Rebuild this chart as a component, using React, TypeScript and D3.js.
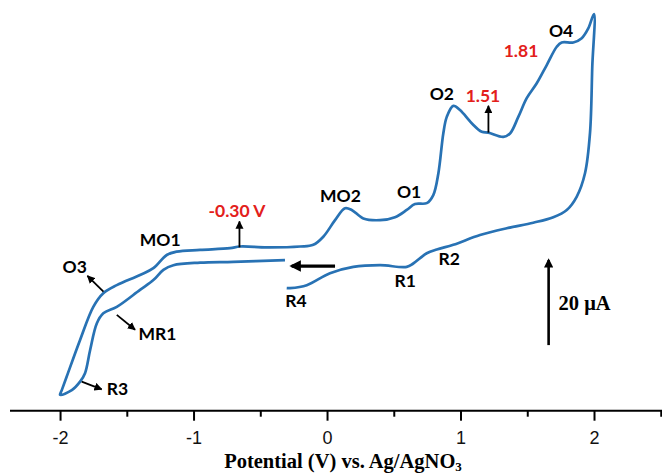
import { useEffect, useRef } from "react";
import { axisBottom, curveCatmullRom, line, scaleLinear, select } from "d3";

// scan starts at -0.3 V, runs negative to -2 V, up to +2 V and back to -0.3 V
const potential = [
    -0.315, -0.702, -0.951, -1.151, -1.226, -1.301, -1.401, -1.575, -1.676, -1.725, -1.775, -1.813, -1.85, -1.912, -2.0,
    -1.987, -1.95, -1.85, -1.751, -1.676, -1.575, -1.401, -1.301, -1.201, -1.126, -0.951, -0.727, -0.652, -0.452, -0.202,
    -0.103, -0.028, 0.06, 0.135, 0.185, 0.272, 0.397, 0.509, 0.597, 0.659, 0.747, 0.796, 0.834, 0.871, 0.897, 0.946,
    0.996, 1.084, 1.159, 1.208, 1.321, 1.371, 1.433, 1.496, 1.571, 1.646, 1.721, 1.758, 1.845, 1.908, 1.957, 2.0,
    1.987, 1.97, 1.933, 1.87, 1.796, 1.695, 1.545, 1.346, 1.146, 0.946, 0.822, 0.747, 0.646, 0.597, 0.397, 0.197,
    0.022, -0.152, -0.277, -0.302
];
const current = [
    -1.2, -1.6, -1.8, -2.4, -3.5, -5.9, -8.2, -12.2, -13.7, -16.1, -22.4, -27.8, -29.8, -31.8, -32.9,
    -31.8, -28.6, -20.0, -12.2, -9.0, -7.1, -4.7, -3.1, 0.0, 0.8, 1.2, 1.6, 2.0, 1.8, 2.0,
    2.4, 4.3, 8.2, 11.0, 10.6, 8.6, 8.2, 8.9, 10.6, 12.0, 12.2, 14.1, 19.2, 28.6, 32.5, 35.1,
    34.1, 31.0, 29.0, 28.8, 27.8, 28.6, 32.5, 36.9, 40.4, 44.7, 49.0, 50.0, 50.0, 51.0, 53.3, 56.7,
    44.3, 28.7, 19.3, 13.7, 10.6, 8.9, 7.6, 6.3, 4.7, 2.4, 1.3, 0.4, -2.0, -2.8, -2.4, -2.8,
    -4.3, -7.1, -7.8, -7.8
];

const majorTicks = [-2, -1, 0, 1, 2];
const minorTicks = [-1.5, -0.5, 0.5, 1.5, 2.5];

// peak labels: text, potential, current (label baseline), colour
const peakLabels: [string, number, number, string][] = [
    ["MO1", -1.25, 2.1, "#000"],
    ["O3", -1.89, -4.2, "#000"],
    ["MR1", -1.27, -20.0, "#000"],
    ["R3", -1.57, -32.9, "#000"],
    ["-0.30 V", -0.675, 9.0, "#e3201b"],
    ["MO2", 0.1, 12.5, "#000"],
    ["O1", 0.615, 13.4, "#000"],
    ["R4", -0.232, -12.2, "#000"],
    ["R1", 0.585, -7.5, "#000"],
    ["R2", 0.915, -2.4, "#000"],
    ["O2", 0.86, 36.5, "#000"],
    ["1.51", 1.168, 36.0, "#e3201b"],
    ["1.81", 1.453, 46.6, "#e3201b"],
    ["O4", 1.753, 51.3, "#000"]
];

// thin pointer arrows: from (E, I) to (E, I)
const pointers: [number, number, number, number][] = [
    [-0.656, 1.8, -0.656, 7.9],
    [-1.675, -8.6, -1.795, -4.9],
    [-1.575, -14.1, -1.438, -17.6],
    [-1.838, -29.8, -1.688, -31.6],
    [1.209, 28.8, 1.209, 35.1]
];

const scanArrow = [0.06, -0.265, -2.6]; // from E, to E, at I
const scaleBar = [1.66, -21.2, -1.2]; // E, I from, I to (20 uA)

function Curve() {
    const x = scaleLinear().domain([-2.375, 2.5]).range([10, 660.75]);
    const y = scaleLinear().domain([-40, 60]).range([425, 0]);
    const axisRef = useRef<SVGGElement>(null);
    const minorRef = useRef<SVGGElement>(null);

    useEffect(() => {
        if (axisRef.current) {
            const g = select(axisRef.current);
            g.call(axisBottom(x).tickValues(majorTicks).tickSize(10).tickPadding(10.5).tickFormat((d) => String(d)));
            g.select(".domain").attr("stroke-width", 2).attr("d", "M10,0H662");
            g.selectAll(".tick line").attr("stroke-width", 2);
            g.selectAll(".tick text")
                .attr("font-family", "Liberation Sans, Arial, sans-serif")
                .attr("font-size", 18)
                .attr("fill", "#111");
        }
        if (minorRef.current) {
            const g = select(minorRef.current);
            g.call(axisBottom(x).tickValues(minorTicks).tickSize(6).tickFormat(() => ""));
            g.select(".domain").remove();
            g.selectAll(".tick line").attr("stroke-width", 2);
        }
    }, []);

    const points = potential.map((e, i) => [x(e), y(current[i])] as [number, number]);
    const path = line().curve(curveCatmullRom.alpha(0.5))(points) ?? "";

    return (
        <svg width={662} height={474} style={{ position: "absolute", left: 0, top: 0, background: "#fff" }}>
            <defs>
                <marker id="head" viewBox="0 0 10 10" refX="9" refY="5" markerWidth="4.5" markerHeight="4.5" orient="auto">
                    <path d="M0,0L10,5L0,10z" fill="#000" />
                </marker>
                <marker id="headBig" viewBox="0 0 10 10" refX="8" refY="5" markerWidth="3.6" markerHeight="3.6" orient="auto">
                    <path d="M0,0L10,5L0,10z" fill="#000" />
                </marker>
            </defs>
            <path d={path} fill="none" stroke="#2872b4" strokeWidth={2.7} strokeLinejoin="round" />
            {pointers.map(([e1, i1, e2, i2], k) => (
                <line key={`p-${k}`} x1={x(e1)} y1={y(i1)} x2={x(e2)} y2={y(i2)} stroke="#000" strokeWidth={1.8} markerEnd="url(#head)" />
            ))}
            <line x1={x(scanArrow[0])} y1={y(scanArrow[2])} x2={x(scanArrow[1])} y2={y(scanArrow[2])} stroke="#000" strokeWidth={3.2} markerEnd="url(#headBig)" />
            <line x1={x(scaleBar[0])} y1={y(scaleBar[1])} x2={x(scaleBar[0])} y2={y(scaleBar[2])} stroke="#000" strokeWidth={2.6} markerEnd="url(#headBig)" />
            <text x={x(scaleBar[0]) + 10} y={y((scaleBar[1] + scaleBar[2]) / 2) + 7} fontFamily="Liberation Serif, Times New Roman, serif" fontWeight="bold" fontSize={20.5}>
                20 μA
            </text>
            {peakLabels.map(([t, e, i, c]) => (
                <text key={t} x={x(e)} y={y(i)} textAnchor="middle" fontFamily="Lato, Open Sans, sans-serif" fontWeight="bold" fontSize={17.5} fill={c}>
                    {t}
                </text>
            ))}
            <g ref={axisRef} transform="translate(0,410.7)" />
            <g ref={minorRef} transform="translate(0,410.7)" />
            <text x={343} y={468} textAnchor="middle" fontFamily="Liberation Serif, Times New Roman, serif" fontWeight="bold" fontSize={20.5}>
                Potential (V) vs. Ag/AgNO<tspan fontSize={13} dy={3}>3</tspan>
            </text>
        </svg>
    );
}

export default function App() {
    return <Curve />;
}
